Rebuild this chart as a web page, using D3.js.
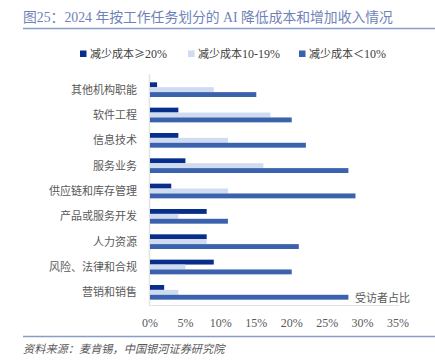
<!DOCTYPE html>
<html>
<head>
<meta charset="utf-8">
<script src="https://cdn.jsdelivr.net/npm/d3@7"></script>
<style>
  body { margin: 0; background: #fff; }
  text { font-family: "Liberation Serif", "Noto Sans CJK SC", serif; }
  .cjk { font-family: "Noto Sans CJK SC", sans-serif; }
</style>
</head>
<body>
<div id="chart"></div>
<script>
var categories = ["其他机构职能", "软件工程", "信息技术", "服务业务", "供应链和库存管理", "产品或服务开发", "人力资源", "风险、法律和合规", "营销和销售"];
var seriesNames = [["减少成本", "≥", "20%"], ["减少成本", "", "10-19%"], ["减少成本", "＜", "10%"]];
var over20 = [1, 4, 4, 5, 3, 8, 8, 9, 2];
var mid10to19 = [9, 17, 11, 16, 11, 4, 8, 5, 4];
var under10 = [15, 20, 22, 28, 29, 11, 21, 20, 28];
var xTicks = [0, 5, 10, 15, 20, 25, 30, 35];
var colors = ["#082e8c", "#cfdbf0", "#3b63ad"];

var width = 435, height = 364;
var margin = { top: 77, left: 150, right: 37, bottom: 59 };

var svg = d3.select("#chart").append("svg")
    .attr("width", width)
    .attr("height", height);

// title + rules
svg.append("text")
    .attr("x", 23).attr("y", 22)
    .attr("font-size", 13.8)
    .attr("fill", "#6f82b8")
    .text("图25：2024 年按工作任务划分的 AI 降低成本和增加收入情况");
svg.append("line")
    .attr("x1", 23).attr("x2", 435).attr("y1", 28.5).attr("y2", 28.5)
    .attr("stroke", "#8a9dc8").attr("stroke-width", 1.5);
svg.append("line")
    .attr("x1", 23).attr("x2", 435).attr("y1", 336.5).attr("y2", 336.5)
    .attr("stroke", "#8a9dc8").attr("stroke-width", 1.5);
svg.append("text")
    .attr("x", 23).attr("y", 353)
    .attr("font-size", 11.2)
    .attr("font-style", "italic")
    .attr("fill", "#595959")
    .text("资料来源：麦肯锡，中国银河证券研究院");

// legend
var legendX = [80, 188, 299];
var legend = svg.selectAll(".legend")
    .data(seriesNames)
    .enter().append("g")
    .attr("transform", function (d, i) { return "translate(" + legendX[i] + ",54)"; });
legend.append("rect")
    .attr("x", 0).attr("y", -3.5)
    .attr("width", 6.5).attr("height", 6.5)
    .attr("fill", function (d, i) { return colors[i]; });
var ltext = legend.append("text")
    .attr("x", 10).attr("y", 0)
    .attr("dy", "0.35em")
    .attr("font-size", 11)
    .attr("fill", "#404040");
ltext.append("tspan").attr("class", "cjk").text(function (d) { return d[0] + d[1]; });
ltext.append("tspan").attr("font-size", 12).text(function (d) { return d[2]; });

var plotW = width - margin.left - margin.right;

var x = d3.scaleLinear().domain([0, 35]).range([margin.left, margin.left + plotW]);
var y = d3.scaleBand().domain(categories).range([margin.top, 305]).paddingInner(0.42).paddingOuter(0.21);
var sub = d3.scaleBand().domain([0, 1, 2]).range([0, y.bandwidth()]);

// axes lines
svg.append("line")
    .attr("x1", x(0) - 0.5).attr("x2", x(0) - 0.5)
    .attr("y1", margin.top - 3).attr("y2", 305.5)
    .attr("stroke", "#e3e3e3").attr("stroke-width", 1.5);
svg.append("line")
    .attr("x1", x(0) - 1).attr("x2", x(35) + 1)
    .attr("y1", 305.5).attr("y2", 305.5)
    .attr("stroke", "#e3e3e3").attr("stroke-width", 1.2);

var data = categories.map(function (c, i) { return [over20[i], mid10to19[i], under10[i]]; });

var group = svg.selectAll(".grp")
    .data(data)
    .enter().append("g")
    .attr("transform", function (d, i) { return "translate(0," + y(categories[i]) + ")"; });

group.selectAll("rect")
    .data(function (d) { return d; })
    .enter().append("rect")
    .attr("x", x(0))
    .attr("y", function (d, j) { return sub(j); })
    .attr("width", function (d) { return x(d) - x(0); })
    .attr("height", sub.bandwidth())
    .attr("fill", function (d, j) { return colors[j]; });

// category labels
svg.selectAll(".cat")
    .data(categories)
    .enter().append("text")
    .attr("x", 137)
    .attr("y", function (d) { return y(d) + y.bandwidth() / 2; })
    .attr("dy", "0.35em")
    .attr("text-anchor", "end")
    .attr("font-size", 11)
    .attr("fill", "#595959")
    .text(function (d) { return d; });

// x tick labels
svg.selectAll(".tick")
    .data(xTicks)
    .enter().append("text")
    .attr("x", function (d) { return x(d); })
    .attr("y", 323)
    .attr("dy", "0.35em")
    .attr("text-anchor", "middle")
    .attr("font-size", 12)
    .attr("fill", "#595959")
    .text(function (d) { return d + "%"; });

svg.append("text")
    .attr("x", 355).attr("y", 298)
    .attr("dy", "0.35em")
    .attr("font-size", 11)
    .attr("fill", "#595959")
    .text("受访者占比");
</script>
</body>
</html>
